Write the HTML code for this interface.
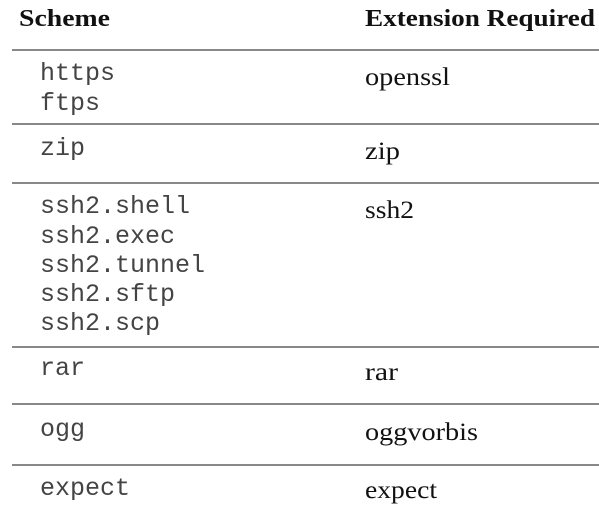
<!DOCTYPE html>
<html><head><meta charset="utf-8"><style>
html,body{margin:0;padding:0;background:#fff;}
svg{display:block;}
.m{font-family:"Liberation Mono",monospace;font-size:25px;fill:#444;}
.s{font-family:"Liberation Serif",serif;font-size:25px;fill:#111;}
.b{font-family:"Liberation Serif",serif;font-size:24px;font-weight:bold;fill:#111;}
</style></head><body>
<svg width="599" height="507" viewBox="0 0 599 507" xmlns="http://www.w3.org/2000/svg">
<g stroke="#888" stroke-width="2">
<line x1="12" y1="50" x2="599" y2="50"/>
<line x1="12" y1="124" x2="599" y2="124"/>
<line x1="12" y1="183" x2="599" y2="183"/>
<line x1="12" y1="347" x2="599" y2="347"/>
<line x1="12" y1="404" x2="599" y2="404"/>
<line x1="12" y1="465" x2="599" y2="465"/>
</g>
<text class="b" x="19" y="26" textLength="91" lengthAdjust="spacingAndGlyphs">Scheme</text>
<text class="b" x="365" y="26" textLength="230" lengthAdjust="spacingAndGlyphs">Extension Required</text>
<text class="m" x="40" y="80">https</text>
<text class="m" x="40" y="110">ftps</text>
<text class="m" x="40" y="155">zip</text>
<text class="m" x="40" y="213">ssh2.shell</text>
<text class="m" x="40" y="243">ssh2.exec</text>
<text class="m" x="40" y="272">ssh2.tunnel</text>
<text class="m" x="40" y="301">ssh2.sftp</text>
<text class="m" x="40" y="330">ssh2.scp</text>
<text class="m" x="40" y="375">rar</text>
<text class="m" x="40" y="436">ogg</text>
<text class="m" x="40" y="495">expect</text>
<text class="s" x="365" y="85" textLength="85" lengthAdjust="spacingAndGlyphs">openssl</text>
<text class="s" x="365" y="159" textLength="35" lengthAdjust="spacingAndGlyphs">zip</text>
<text class="s" x="365" y="218" textLength="49" lengthAdjust="spacingAndGlyphs">ssh2</text>
<text class="s" x="365" y="380" textLength="33" lengthAdjust="spacingAndGlyphs">rar</text>
<text class="s" x="365" y="440" textLength="113" lengthAdjust="spacingAndGlyphs">oggvorbis</text>
<text class="s" x="365" y="498" textLength="72" lengthAdjust="spacingAndGlyphs">expect</text>
</svg>
</body></html>
